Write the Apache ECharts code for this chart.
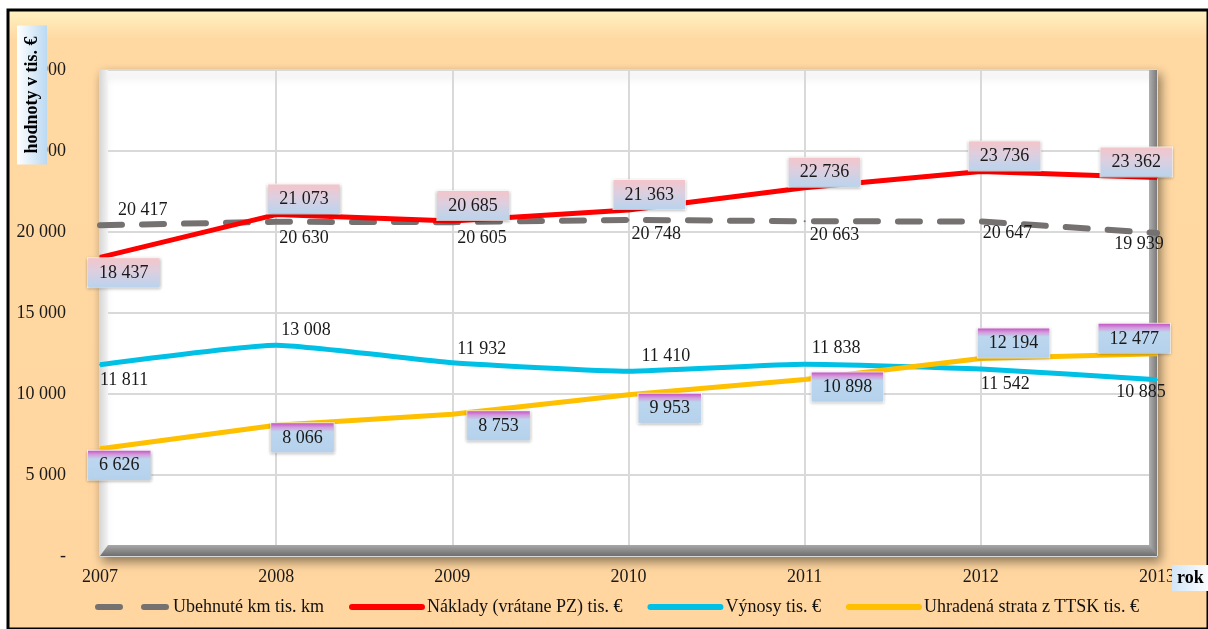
<!DOCTYPE html>
<html>
<head>
<meta charset="utf-8">
<script src="https://cdn.jsdelivr.net/npm/echarts@6/dist/echarts.min.js"></script>
<style>
html,body{margin:0;padding:0;background:#fff;}
#c{width:1208px;height:629px;}
</style>
</head>
<body>
<div id="c"></div>
<script>
// ---- data ----
var years = ['2007', '2008', '2009', '2010', '2011', '2012', '2013'];
var km = [20417, 20630, 20605, 20748, 20663, 20647, 19939];
var naklady = [18437, 21073, 20685, 21363, 22736, 23736, 23362];
var vynosy = [11811, 13008, 11932, 11410, 11838, 11542, 10885];
var strata = [6626, 8066, 8753, 9953, 10898, 12194, 12477];
var yTicks = [0, 5000, 10000, 15000, 20000, 25000, 30000];
var seriesNames = ['Ubehnuté km tis. km', 'Náklady (vrátane PZ) tis. €', 'Výnosy tis. €', 'Uhradená strata z TTSK tis. €'];

// ---- styling / layout ----
var FONT = '"Liberation Serif", "Times New Roman", serif';
var FS = 18;
var G = {left: 100, top: 70, right: 51, bottom: 73};
var W = 1208, H = 629;
function fmt(v) { return v === 0 ? '-' : String(v).replace(/\B(?=(\d{3})+(?!\d))/g, ' '); }

var grad = function (stops) { return new echarts.graphic.LinearGradient(0, 0, 0, 1, stops); };
var redBox = grad([{offset: 0, color: '#F6C4C8'}, {offset: 0.45, color: '#DCCFE0'}, {offset: 1, color: '#B7D4EE'}]);
var orBox = grad([{offset: 0, color: '#C044C4'}, {offset: 0.16, color: '#D49CDC'}, {offset: 0.3, color: '#BCD6EE'}, {offset: 1, color: '#B4D1EC'}]);

// label placement per point [position, align, dx, dy, distance]
var kmPos = [['top','left',18,0,5],['bottom','left',3,0,6],['bottom','left',5,0,6],['bottom','left',3,0,4],['bottom','left',5,0,4],['bottom','left',2,0,2],['bottom','center',-18,0,1]];
var vyPos = [['bottom','left',0,0,6],['top','left',5,0,5],['top','left',5,0,3],['top','left',13,0,5],['top','left',7,0,6],['bottom','left',0,0,5],['bottom','center',-16,0,3]];
var naPos = [['bottom','left',-12,0,0],['top','left',-8,0,0],['top','left',-15,0,0],['top','left',-15,0,0],['top','left',-16,0,0],['top','left',-12,0,0],['top','right',15,0,0]];
var stPos = [['bottom','left',-12,0,1],['bottom','left',-5,-3,0],['bottom','left',15,-4,0],['bottom','left',10,-2,0],['bottom','left',7,-8,0],['top','left',-3,0,0],['top','right',13,0,0]];

function build(values, pos, box) {
  return values.map(function (v, i) {
    var p = pos[i];
    var lab = {show: true, position: p[0], align: p[1], offset: [p[2], p[3]], distance: p[4]};
    if (box) {
      lab.backgroundColor = box;
      lab.padding = [6, 11, 5, 11];
      lab.shadowBlur = 3;
      lab.shadowColor = 'rgba(0,0,0,0.25)';
      lab.shadowOffsetY = 1;
      lab.borderColor = 'rgba(255,255,255,0.8)';
      lab.borderWidth = 1;
    }
    return {value: v, label: lab};
  });
}

var labelBase = {show: true, fontFamily: FONT, fontSize: FS, color: '#1a1a1a', formatter: function (p) { return fmt(p.value); }};

var chart = echarts.init(document.getElementById('c'), null, {renderer: 'canvas'});

var pl = G.left, pt = G.top, pr = W - G.right, pb = H - G.bottom;
var colors = ['#767171', '#FF0000', '#00C0E6', '#FFC000'];

function lineSeries(i, values, pos, box, extra) {
  var s = {
    name: seriesNames[i], type: 'line', data: build(values, pos, box),
    symbol: 'circle', symbolSize: 2, showSymbol: true, z: box ? 4 : 3,
    lineStyle: {color: colors[i], width: 5}, itemStyle: {color: colors[i]},
    label: labelBase, emphasis: {disabled: true}
  };
  for (var k in extra) s[k] = extra[k];
  return s;
}

var option = {
  animation: false,
  backgroundColor: 'transparent',
  grid: {
    left: G.left, top: G.top, right: G.right, bottom: G.bottom,
    show: true, backgroundColor: '#ffffff', borderColor: '#d0d0d0', borderWidth: 1,
    shadowBlur: 10, shadowColor: 'rgba(0,0,0,0.45)', shadowOffsetX: 3, shadowOffsetY: 5
  },
  legend: {
    left: 90, top: 593, itemWidth: 70, itemHeight: 10, itemGap: 25,
    textStyle: {fontFamily: FONT, fontSize: FS, color: '#111'},
    itemStyle: {opacity: 0},
    data: seriesNames.map(function (n, i) {
      return {name: n, lineStyle: {width: 6, color: colors[i], type: i === 0 ? [22, 24] : 'solid', cap: 'round'}};
    })
  },
  xAxis: {
    type: 'category', data: years, boundaryGap: false,
    axisLine: {show: false}, axisTick: {show: false},
    axisLabel: {fontFamily: FONT, fontSize: FS, color: '#1a1a1a', margin: 12},
    splitLine: {show: true, lineStyle: {color: '#d9d9d9', width: 2}}
  },
  yAxis: {
    type: 'value', min: yTicks[0], max: yTicks[yTicks.length - 1], interval: yTicks[1] - yTicks[0],
    axisLine: {show: false}, axisTick: {show: false},
    axisLabel: {fontFamily: FONT, fontSize: FS, color: '#1a1a1a', margin: 34, formatter: fmt},
    splitLine: {show: true, lineStyle: {color: '#d9d9d9', width: 2}}
  },
  graphic: [
    {type: 'rect', z: -100, silent: true, shape: {x: 8, y: 10, width: W - 8, height: H - 10},
      style: {fill: grad([{offset: 0, color: '#FFF4C4'}, {offset: 0.05, color: '#FFD8A2'}, {offset: 1, color: '#FFD6A0'}]), stroke: '#000', lineWidth: 3}},
    // left wall
    {type: 'rect', z: 1, silent: true, shape: {x: pl, y: pt, width: 8, height: pb - pt},
      style: {fill: new echarts.graphic.LinearGradient(0, 0, 1, 0, [{offset: 0, color: '#d8d8d8'}, {offset: 1, color: '#f4f4f4'}])}},
    // right edge
    {type: 'rect', z: 1, silent: true, shape: {x: pr - 8, y: pt, width: 8, height: pb - pt},
      style: {fill: new echarts.graphic.LinearGradient(0, 0, 1, 0, [{offset: 0, color: '#b0b0b0'}, {offset: 1, color: '#7a7a7a'}])}},
    // floor
    {type: 'polygon', z: 1, silent: true, shape: {points: [[pl + 8, pb - 11], [pr - 8, pb - 11], [pr, pb], [pl, pb]]},
      style: {fill: grad([{offset: 0, color: '#a8a8a8'}, {offset: 1, color: '#6e6e6e'}])}},
    // y axis title
    {type: 'text', z: 10, silent: true, x: 32, y: 95, rotation: Math.PI / 2,
      style: {text: 'hodnoty v tis. €', fontFamily: FONT, fontSize: 18, fontWeight: 'bold', fill: '#000',
        align: 'center', verticalAlign: 'middle', padding: [6, 11, 6, 11],
        backgroundColor: new echarts.graphic.LinearGradient(0, 0, 0, 1, [{offset: 0, color: '#FFFFFF'}, {offset: 1, color: '#BBD9F2'}])}},
    // x axis title
    {type: 'text', z: 10, silent: true, x: 1172, y: 578,
      style: {text: 'rok', fontFamily: FONT, fontSize: 18, fontWeight: 'bold', fill: '#000',
        align: 'left', verticalAlign: 'middle', padding: [4, 8, 4, 5],
        backgroundColor: new echarts.graphic.LinearGradient(0, 0, 1, 0, [{offset: 0, color: '#D2E6F8'}, {offset: 1, color: '#FFFFFF'}])}}
  ],
  series: [
    lineSeries(0, km, kmPos, null, {lineStyle: {color: colors[0], width: 6, type: [22, 20], cap: 'round'}}),
    lineSeries(1, naklady, naPos, redBox, {}),
    lineSeries(2, vynosy, vyPos, null, {smooth: 0.15}),
    lineSeries(3, strata, stPos, orBox, {})
  ]
};
chart.setOption(option);
</script>
</body>
</html>
